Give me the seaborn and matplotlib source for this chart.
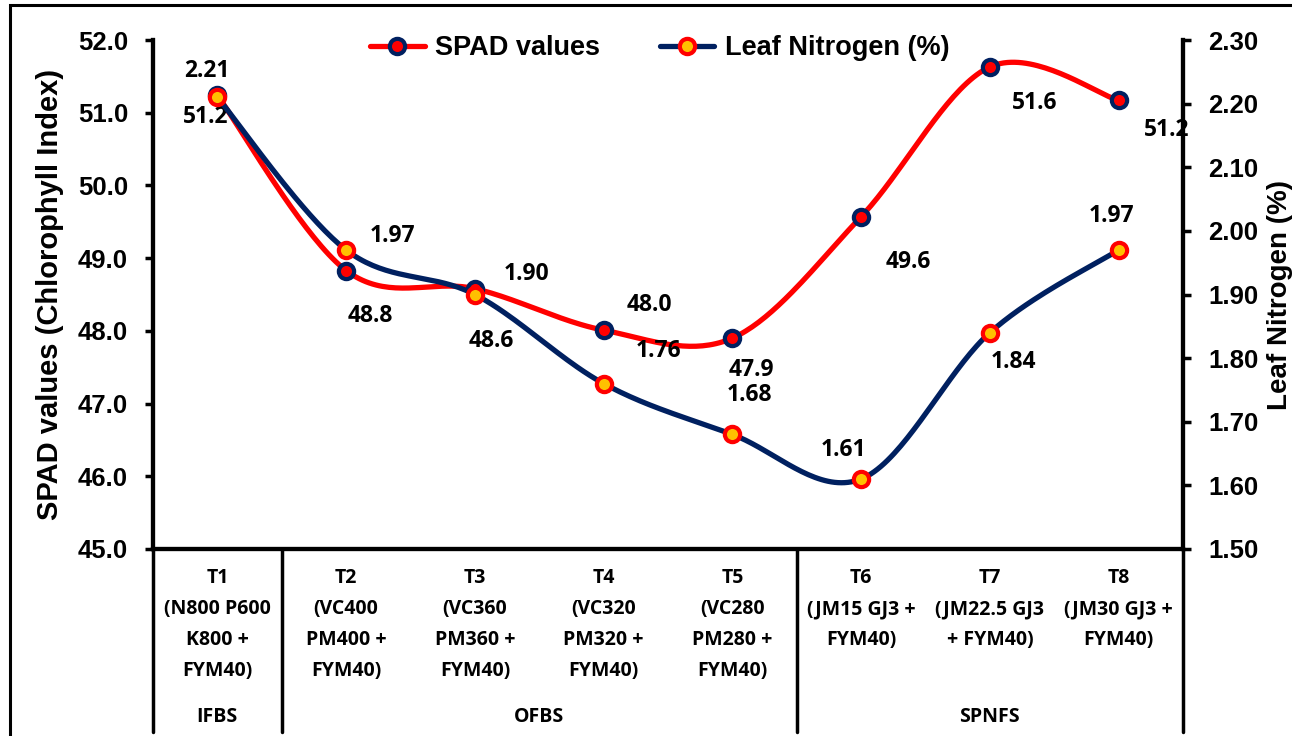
import numpy as np
import matplotlib.pyplot as plt
import seaborn as sns
from matplotlib.patches import Rectangle
from matplotlib.lines import Line2D
import matplotlib.transforms as mtransforms

sns.set_style("white")
plt.rcParams['font.family'] = ['Liberation Sans', 'DejaVu Sans']
plt.rcParams['font.weight'] = 'bold'
plt.rcParams['text.color'] = 'black'
plt.rcParams['axes.labelcolor'] = 'black'

# data
treatments = ["T1", "T2", "T3", "T4", "T5", "T6", "T7", "T8"]
treatment_details = [
    "(N800 P600\nK800 +\nFYM40)",
    "(VC400\nPM400 +\nFYM40)",
    "(VC360\nPM360 +\nFYM40)",
    "(VC320\nPM320 +\nFYM40)",
    "(VC280\nPM280 +\nFYM40)",
    "(JM15 GJ3 +\nFYM40)",
    "(JM22.5 GJ3\n+ FYM40)",
    "(JM30 GJ3 +\nFYM40)",
]
groups = ["IFBS", "OFBS", "SPNFS"]
group_sizes = [1, 4, 3]
spad = [51.24, 48.83, 48.58, 48.01, 47.90, 49.57, 51.63, 51.17]
spad_labels = ["51.2", "48.8", "48.6", "48.0", "47.9", "49.6", "51.6", "51.2"]
nitrogen = [2.21, 1.97, 1.90, 1.76, 1.68, 1.61, 1.84, 1.97]
nitrogen_labels = ["2.21", "1.97", "1.90", "1.76", "1.68", "1.61", "1.84", "1.97"]

# label offsets (pixels)
spad_off = [(-12, -22), (24, -45), (16, -52), (46, 25), (19, -32), (47, -45), (45, -36), (48, -30)]
nit_off = [(-10, 26), (46, 14), (52, 21), (55, 33), (17, 39), (-18, 29), (24, -29), (-7, 34)]

RED = "#FF0000"
NAVY = "#002060"
GOLD = "#FFC000"
LABEL_FONT = ['Open Sans', 'DejaVu Sans']


def smooth(xs, ys, n=40):
    # Excel-like smoothing: cubic bezier, catmull-rom control points
    xs = np.asarray(xs, float)
    ys = np.asarray(ys, float)
    px = np.concatenate([[xs[0]], xs, [xs[-1]]])
    py = np.concatenate([[ys[0]], ys, [ys[-1]]])
    out_x, out_y = [], []
    t = np.linspace(0, 1, n)
    for i in range(1, len(px) - 2):
        p0 = np.array([px[i], py[i]])
        p3 = np.array([px[i + 1], py[i + 1]])
        c1 = p0 + (np.array([px[i + 1], py[i + 1]]) - np.array([px[i - 1], py[i - 1]])) / 6
        c2 = p3 - (np.array([px[i + 2], py[i + 2]]) - np.array([px[i], py[i]])) / 6
        b = ((1 - t) ** 3)[:, None] * p0 + (3 * (1 - t) ** 2 * t)[:, None] * c1 \
            + (3 * (1 - t) * t ** 2)[:, None] * c2 + (t ** 3)[:, None] * p3
        out_x.extend(b[:, 0])
        out_y.extend(b[:, 1])
    return np.array(out_x), np.array(out_y)


x = np.arange(len(treatments))

fig = plt.figure(figsize=(12.92, 7.36), dpi=100)
ax = fig.add_axes([153 / 1292, 1 - 549 / 736, 1030 / 1292, 509 / 736])
ax2 = ax.twinx()

sx, sy = smooth(x, spad)
nx, ny = smooth(x, nitrogen)
sns.lineplot(x=sx, y=sy, ax=ax, color=RED, lw=3.8, sort=False, zorder=3)
sns.lineplot(x=nx, y=ny, ax=ax2, color=NAVY, lw=3.8, sort=False, zorder=3)
ax.plot(x, spad, ls="none", marker="o", ms=11, mfc=RED, mec=NAVY, mew=3, zorder=4)
ax2.plot(x, nitrogen, ls="none", marker="o", ms=11, mfc=GOLD, mec=RED, mew=3, zorder=4)

for xi, v, lab, off in zip(x, spad, spad_labels, spad_off):
    ax.annotate(lab, (xi, v), xytext=off, textcoords="offset pixels", ha="center", va="center",
                fontsize=16.5, fontweight="bold", family=LABEL_FONT, color="black", zorder=5)
for xi, v, lab, off in zip(x, nitrogen, nitrogen_labels, nit_off):
    ax2.annotate(lab, (xi, v), xytext=off, textcoords="offset pixels", ha="center", va="center",
                 fontsize=16.5, fontweight="bold", family=LABEL_FONT, color="black", zorder=5)

ax.set_xlim(-0.5, len(treatments) - 0.5)
ax.set_ylim(45, 52)
ax2.set_ylim(1.5, 2.3)
ax.set_yticks(np.arange(45, 52.1, 1))
ax.set_yticklabels([f"{v:.1f}" for v in np.arange(45, 52.1, 1)])
ax2.set_yticks(np.arange(1.5, 2.31, 0.1))
ax2.set_yticklabels([f"{v:.2f}" for v in np.arange(1.5, 2.31, 0.1)])

for a in (ax, ax2):
    a.spines["top"].set_visible(False)
    for s in ("left", "right", "bottom"):
        a.spines[s].set_linewidth(3)
        a.spines[s].set_color("black")
    a.tick_params(axis="y", labelsize=18.5, width=2.5, length=6, pad=12, colors="black")
    a.grid(False)
ax.patch.set_visible(False)

ax.set_xticks(x)
ax.set_xticklabels([f"{t}\n{d}" for t, d in zip(treatments, treatment_details)],
                   fontsize=14, fontweight="bold", family=LABEL_FONT, linespacing=1.72, va="top")
ax.tick_params(axis="x", length=0, pad=14, colors="black")

ax.set_ylabel("SPAD values (Chlorophyll Index)", fontsize=21, fontweight="bold", labelpad=10)
ax2.set_ylabel("Leaf Nitrogen (%)", fontsize=20, fontweight="bold", labelpad=6, rotation=90)

# group separators and labels below the axis
trans = mtransforms.blended_transform_factory(ax.transData, ax.transAxes)
edges = np.concatenate([[0], np.cumsum(group_sizes)]) - 0.5
for e in edges:
    ax.add_line(Line2D([e, e], [0, -0.36], transform=trans, color="black", lw=2.5, clip_on=False))
for g, lo, hi in zip(groups, edges[:-1], edges[1:]):
    ax.text((lo + hi) / 2, -0.33, g, transform=trans, ha="center", va="center",
            fontsize=14, fontweight="bold", family=LABEL_FONT)

legend_handles = [
    Line2D([], [], color=RED, lw=3.8, marker="o", ms=11, mfc=RED, mec=NAVY, mew=3),
    Line2D([], [], color=NAVY, lw=3.8, marker="o", ms=11, mfc=GOLD, mec=RED, mew=3),
]
fig.legend(legend_handles, ["SPAD values", "Leaf Nitrogen (%)"], loc="center",
           bbox_to_anchor=(660 / 1292, 1 - 48 / 736), ncol=2, frameon=False,
           prop={"size": 19.5, "weight": "bold"}, handlelength=2.0, columnspacing=2.2, handletextpad=0.4)

fig.patches.append(Rectangle((10 / 1292, -0.5), 2, 1.5 - 5 / 736, transform=fig.transFigure,
                             fill=False, ec="black", lw=2.2))

fig.savefig("out.png", dpi=100)
